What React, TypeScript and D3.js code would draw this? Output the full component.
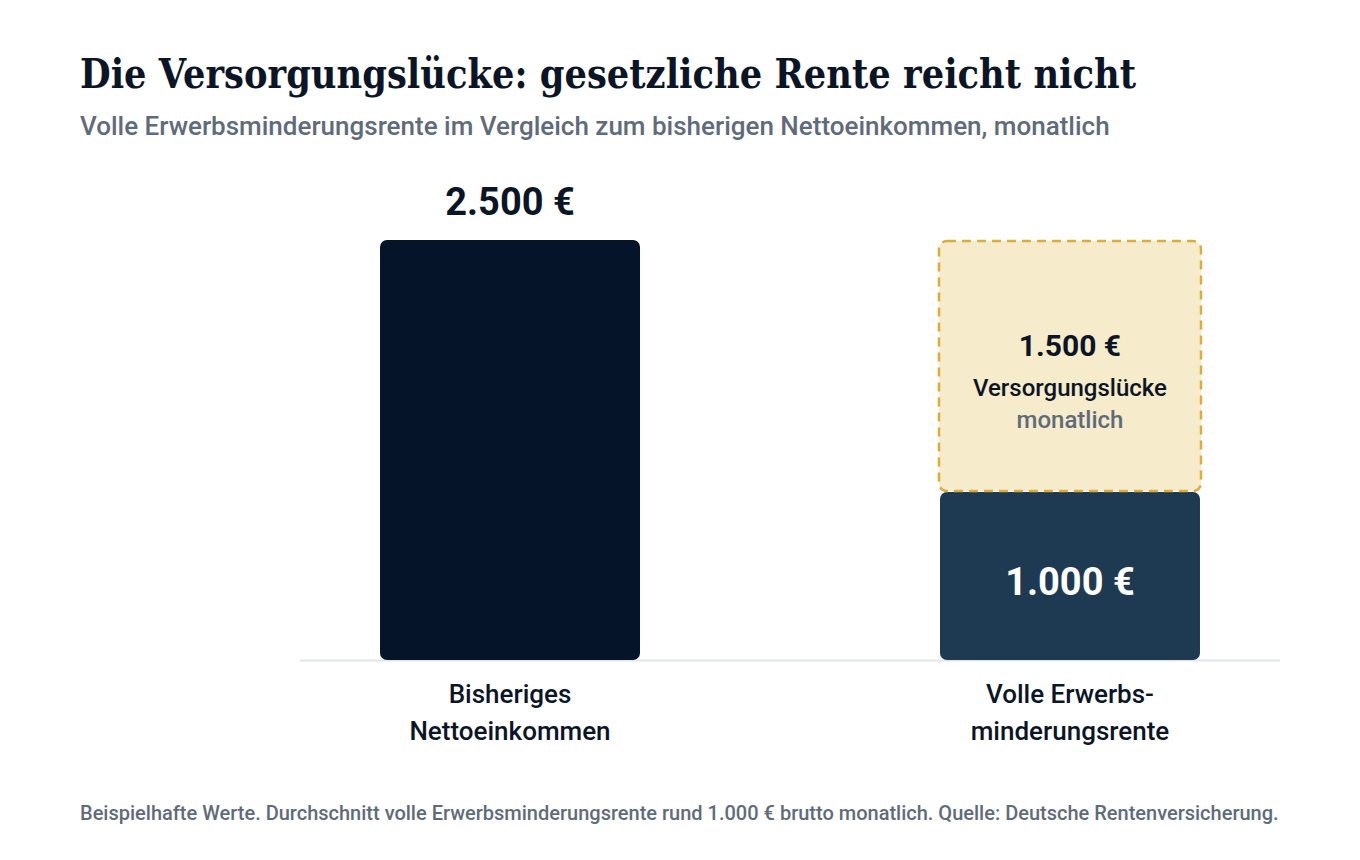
import * as d3 from "d3";
import { useEffect, useRef } from "react";

// chart data
const categories = ["Bisheriges Nettoeinkommen", "Volle Erwerbsminderungsrente"];
const categoryLines = [
  ["Bisheriges", "Nettoeinkommen"],
  ["Volle Erwerbs-", "minderungsrente"],
];
const incomeValues = [2500];
const pensionValues = [1000];
const gapValues = [1500];

const title = "Die Versorgungslücke: gesetzliche Rente reicht nicht";
const subtitle = "Volle Erwerbsminderungsrente im Vergleich zum bisherigen Nettoeinkommen, monatlich";
const footnote =
  "Beispielhafte Werte. Durchschnitt volle Erwerbsminderungsrente rund 1.000 € brutto monatlich. Quelle: Deutsche Rentenversicherung.";

const fmt = (v: number) => d3.format(",")(v).replace(/,/g, ".") + " €";

const sans = "Roboto, 'Noto Sans', sans-serif";
const slab = "'Roboto Slab', 'DejaVu Serif', serif";

const App = () => {
  const ref = useRef<SVGSVGElement>(null);

  useEffect(() => {
    const width = 1360,
      height = 860;
    const svg = d3.select(ref.current);
    svg.selectAll("*").remove();
    svg.attr("width", width).attr("height", height);

    svg.append("rect").attr("width", width).attr("height", height).attr("fill", "#ffffff");

    // header
    svg
      .append("text")
      .attr("x", 80)
      .attr("y", 88)
      .attr("font-family", slab)
      .attr("font-weight", 700)
      .attr("font-size", 41)
      .attr("fill", "#0b1526")
      .attr("textLength", 1056)
      .attr("lengthAdjust", "spacingAndGlyphs")
      .text(title);

    svg
      .append("text")
      .attr("x", 80)
      .attr("y", 135)
      .attr("font-family", sans)
      .attr("font-weight", 500)
      .attr("font-size", 26)
      .attr("fill", "#5f6b7a")
      .text(subtitle);

    // scales
    const x = d3
      .scaleBand()
      .domain(categories)
      .range([300, 1280])
      .paddingInner(0.5357)
      .paddingOuter(0.1429);
    const y = d3.scaleLinear().domain([0, 2500]).range([660, 240]);
    const bw = x.bandwidth();

    // baseline
    svg
      .append("line")
      .attr("x1", 300)
      .attr("x2", 1280)
      .attr("y1", y(0) + 0.5)
      .attr("y2", y(0) + 0.5)
      .attr("stroke", "#e2e6eb")
      .attr("stroke-width", 2);

    // bar 1: net income
    const x1 = x(categories[0])!;
    svg
      .selectAll("rect.income")
      .data(incomeValues)
      .join("rect")
      .attr("class", "income")
      .attr("x", x1)
      .attr("y", (d) => y(d))
      .attr("width", bw)
      .attr("height", (d) => y(0) - y(d))
      .attr("rx", 7)
      .attr("fill", "#06142a");

    svg
      .selectAll("text.income")
      .data(incomeValues)
      .join("text")
      .attr("class", "income")
      .attr("x", x1 + bw / 2)
      .attr("y", (d) => y(d) - 25)
      .attr("text-anchor", "middle")
      .attr("font-family", sans)
      .attr("font-weight", 700)
      .attr("font-size", 38)
      .attr("fill", "#0b1526")
      .text((d) => fmt(d));

    // bar 2: pension + gap
    const x2 = x(categories[1])!;
    const pension = pensionValues[0];
    const gap = gapValues[0];

    svg
      .selectAll("rect.pension")
      .data(pensionValues)
      .join("rect")
      .attr("class", "pension")
      .attr("x", x2)
      .attr("y", (d) => y(d))
      .attr("width", bw)
      .attr("height", (d) => y(0) - y(d))
      .attr("rx", 7)
      .attr("fill", "#1e3a52");

    svg
      .selectAll("rect.gap")
      .data(gapValues)
      .join("rect")
      .attr("class", "gap")
      .attr("x", x2 - 1)
      .attr("y", (d) => y(pension + d) + 1)
      .attr("width", bw + 2)
      .attr("height", (d) => y(pension) - y(pension + d) - 2)
      .attr("rx", 8)
      .attr("fill", "#f6ebca")
      .attr("stroke", "#dcae38")
      .attr("stroke-width", 2.5)
      .attr("stroke-dasharray", "9 6");

    svg
      .append("text")
      .attr("x", x2 + bw / 2)
      .attr("y", (y(0) + y(pension)) / 2 + 19)
      .attr("text-anchor", "middle")
      .attr("font-family", sans)
      .attr("font-weight", 700)
      .attr("font-size", 38)
      .attr("fill", "#ffffff")
      .text(fmt(pension));

    const gapMid = (y(pension) + y(pension + gap)) / 2;
    svg
      .append("text")
      .attr("x", x2 + bw / 2)
      .attr("y", gapMid - 10)
      .attr("text-anchor", "middle")
      .attr("font-family", sans)
      .attr("font-weight", 700)
      .attr("font-size", 30)
      .attr("fill", "#0b1526")
      .text(fmt(gap));
    svg
      .append("text")
      .attr("x", x2 + bw / 2)
      .attr("y", gapMid + 30)
      .attr("text-anchor", "middle")
      .attr("font-family", sans)
      .attr("font-weight", 500)
      .attr("font-size", 24)
      .attr("fill", "#0b1526")
      .text("Versorgungslücke");
    svg
      .append("text")
      .attr("x", x2 + bw / 2)
      .attr("y", gapMid + 62)
      .attr("text-anchor", "middle")
      .attr("font-family", sans)
      .attr("font-weight", 500)
      .attr("font-size", 24)
      .attr("fill", "#5f6b7a")
      .text("monatlich");

    // category labels
    const labels = svg
      .selectAll("text.cat")
      .data(categories)
      .join("text")
      .attr("class", "cat")
      .attr("text-anchor", "middle")
      .attr("font-family", sans)
      .attr("font-weight", 500)
      .attr("font-size", 26)
      .attr("fill", "#0b1526");
    labels
      .selectAll("tspan")
      .data((d, i) => categoryLines[i].map((l) => ({ l, c: d })))
      .join("tspan")
      .attr("x", (d) => x(d.c)! + bw / 2)
      .attr("y", (d, j) => 703 + j * 37)
      .text((d) => d.l);

    // footnote
    svg
      .append("text")
      .attr("x", 80)
      .attr("y", 820)
      .attr("font-family", sans)
      .attr("font-weight", 500)
      .attr("font-size", 20)
      .attr("fill", "#5f6b7a")
      .text(footnote);
  }, []);

  return <svg ref={ref} style={{ position: "absolute", left: 0, top: 0 }} />;
};

export default App;
